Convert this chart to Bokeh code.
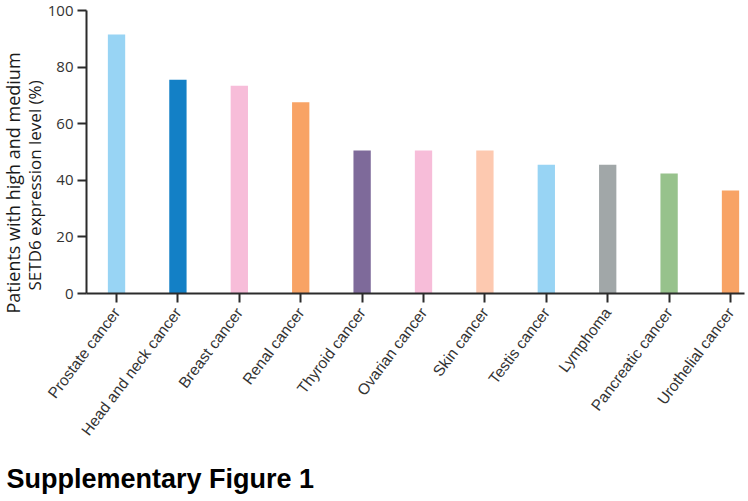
import math
from bokeh.plotting import figure
from bokeh.models import FixedTicker, Title, Range1d
from bokeh.embed import file_html
from bokeh.resources import INLINE

categories = ["Prostate cancer", "Head and neck cancer", "Breast cancer", "Renal cancer",
              "Thyroid cancer", "Ovarian cancer", "Skin cancer", "Testis cancer",
              "Lymphoma", "Pancreatic cancer", "Urothelial cancer"]
values = [91.5, 75.5, 73.4, 67.6, 50.5, 50.5, 50.5, 45.5, 45.5, 42.4, 36.4]
colors = ["#98D4F4", "#1380C6", "#F7BDD9", "#F8A365", "#7E6A9A", "#F7BDD9",
          "#FDC9B0", "#98D4F4", "#A1A7A8", "#97C28C", "#F8A365"]
y_ticks = [0, 20, 40, 60, 80, 100]
y_label_line1 = "Patients with high and medium"
y_label_line2 = "SETD6 expression level (%)"
caption = "Supplementary Figure 1"

xs = list(range(len(categories)))

p = figure(width=748, height=501, output_backend="svg", toolbar_location=None,
           x_range=Range1d(-0.489, 10.228), y_range=Range1d(0, 100),
           min_border_left=86, min_border_right=4, min_border_top=10, min_border_bottom=208)
p.outline_line_color = None
p.xgrid.grid_line_color = None
p.ygrid.grid_line_color = None
p.background_fill_color = "white"
p.border_fill_color = "white"

p.vbar(x=xs, top=values, width=0.282, bottom=0, fill_color=colors, line_color=None)

axis_color = "#2b2b2b"
for ax in (p.xaxis[0], p.yaxis[0]):
    ax.axis_line_color = axis_color
    ax.axis_line_width = 2
    ax.major_tick_line_color = axis_color
    ax.major_tick_line_width = 2
    ax.minor_tick_line_color = None
    ax.major_tick_in = 0
    ax.major_tick_out = 9

p.yaxis.ticker = FixedTicker(ticks=y_ticks)
p.yaxis.major_label_text_font = "Open Sans"
p.yaxis.major_label_text_font_size = "15px"
p.yaxis.major_label_text_color = "#333333"
p.yaxis.major_label_standoff = 4

p.xaxis.ticker = FixedTicker(ticks=xs)
p.xaxis.major_label_overrides = {i: c for i, c in enumerate(categories)}
p.xaxis.major_label_orientation = math.radians(53)
p.xaxis.major_label_text_font = "Liberation Sans"
p.xaxis.major_label_text_font_size = "15.5px"
p.xaxis.major_label_text_color = "#333333"
p.xaxis.major_label_standoff = 7
# thin spacer between tick labels and caption
p.xaxis.axis_label = " "
p.xaxis.axis_label_text_font_size = "1px"
p.xaxis.axis_label_standoff = 3

ylab_style = dict(text_font="Open Sans", text_font_style="normal", text_color="#1a1a1a")
p.add_layout(Title(text=y_label_line2, align="left", offset=3, standoff=-2,
                   text_font_size="17px", **ylab_style), "left")
p.add_layout(Title(text=y_label_line1, align="left", offset=-20, standoff=-6,
                   text_font_size="18px", **ylab_style), "left")

cap = Title(text=caption, align="left", offset=-80, standoff=16,
            text_font="Liberation Sans", text_font_size="27px", text_font_style="bold",
            text_color="black")
p.add_layout(cap, "below")

open("out.html", "w").write(file_html(p, INLINE))
